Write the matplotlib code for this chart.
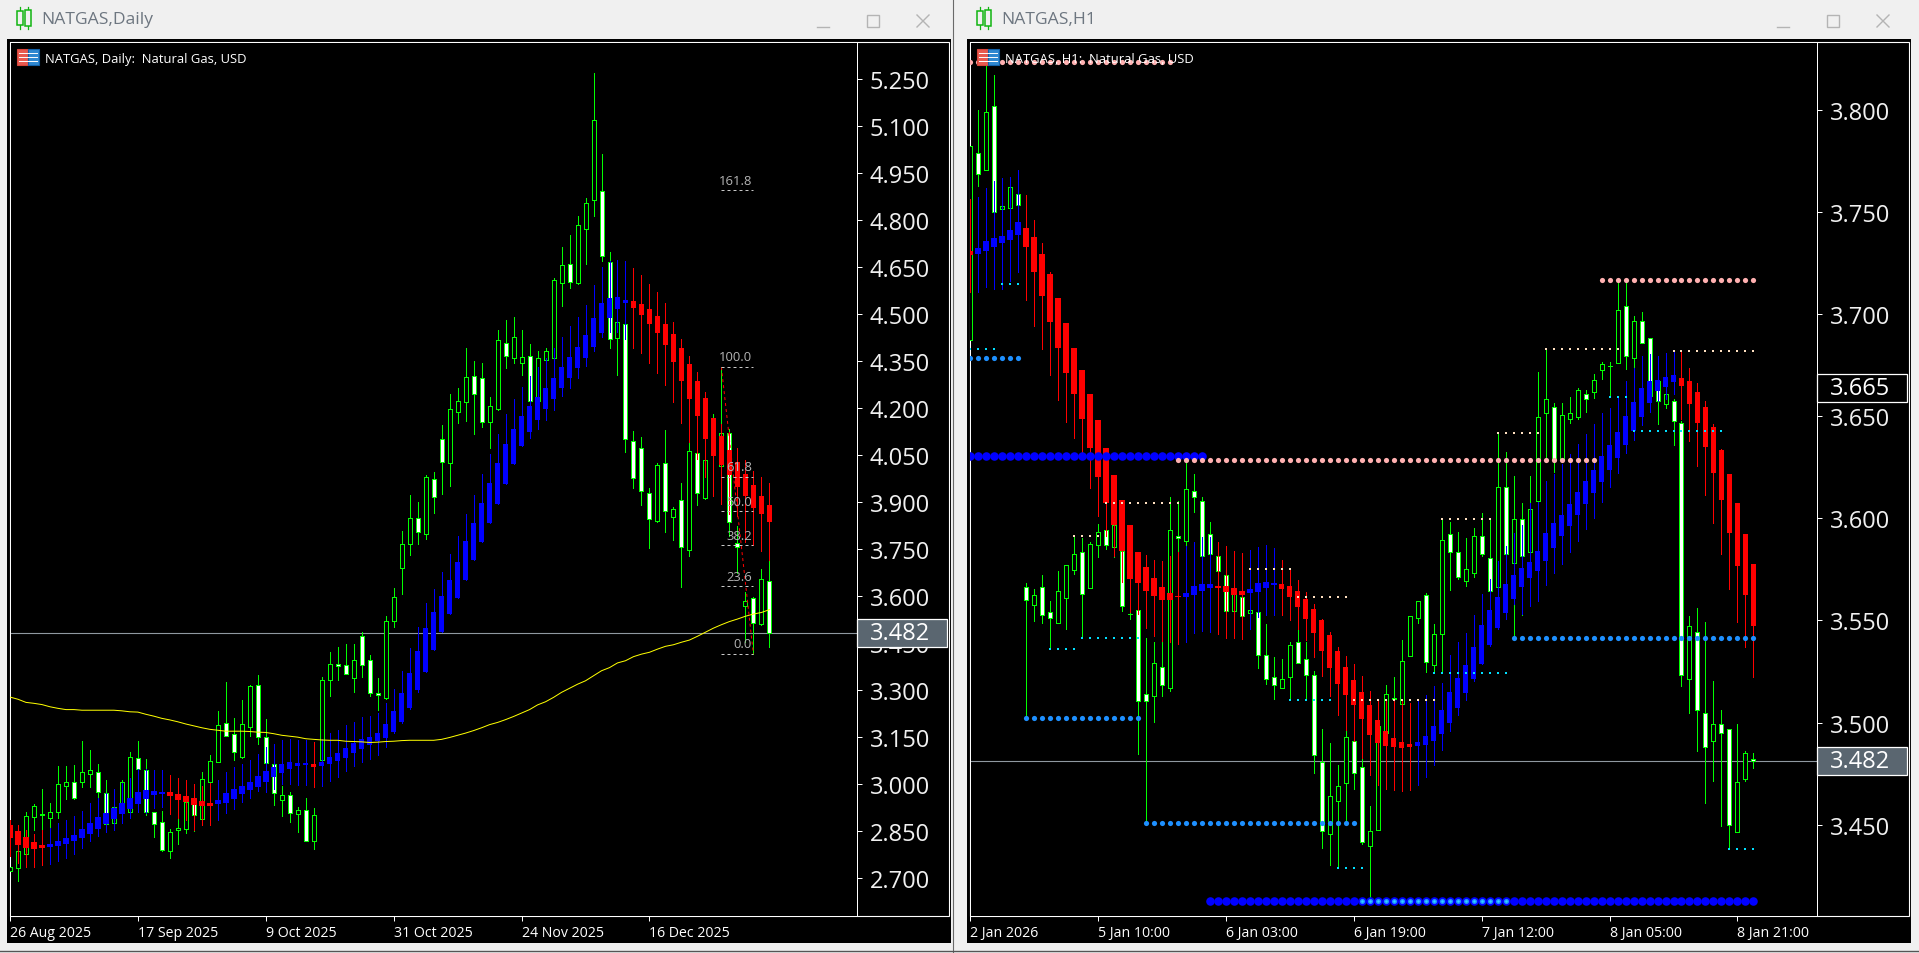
import matplotlib
matplotlib.use("Agg")
import matplotlib.pyplot as plt
from matplotlib.patches import Rectangle
from matplotlib.transforms import blended_transform_factory

plt.rcParams['font.family'] = ['Open Sans', 'DejaVu Sans']

W, H = 1919, 954

# ---- NATGAS Daily, price candles
d_open = [2.724,2.732,2.778,2.894,2.903,2.891,2.910,2.993,3.008,3.006,3.032,3.040,2.973,2.875,2.932,2.912,3.083,3.045,2.910,2.878,
          2.788,2.852,2.857,2.937,2.889,3.008,3.072,3.195,3.159,3.088,3.182,3.316,3.149,3.063,2.948,2.964,2.904,2.916,2.820,3.078,
          3.332,3.383,3.379,3.340,3.474,3.395,3.290,3.276,3.522,3.691,3.768,3.851,3.800,3.973,4.101,4.026,4.189,4.221,4.302,4.296,
          4.155,4.198,4.407,4.360,4.344,4.366,4.224,4.355,4.362,4.601,4.660,4.600,4.773,4.866,4.893,4.668,4.423,4.470,4.094,4.074,
          3.931,3.841,4.024,3.854,3.908,3.748,4.056,3.915,4.060,4.017,4.120,3.770,3.568,3.593,3.511,3.649]
d_high = [2.735,2.804,2.910,2.937,2.985,2.940,3.058,3.058,3.061,3.138,3.109,3.064,3.014,2.926,3.014,3.102,3.138,3.081,2.910,2.915,
          2.857,2.891,2.942,2.937,3.038,3.093,3.234,3.327,3.211,3.270,3.317,3.349,3.208,3.063,2.995,2.974,2.926,2.955,2.923,3.341,
          3.421,3.437,3.448,3.448,3.485,3.413,3.339,3.536,3.625,3.807,3.923,3.901,3.987,3.996,4.147,4.246,4.265,4.392,4.351,4.345,
          4.235,4.450,4.482,4.490,4.450,4.405,4.383,4.393,4.616,4.714,4.753,4.813,4.871,5.270,5.011,4.698,4.477,4.470,4.127,4.107,
          3.945,4.025,4.130,3.886,3.963,4.089,4.056,4.034,4.181,4.331,4.134,3.825,3.612,3.599,3.687,3.715]
d_low = [2.724,2.692,2.777,2.852,2.852,2.859,2.892,2.953,2.953,2.991,2.992,2.955,2.870,2.855,2.910,2.905,3.044,2.900,2.831,2.787,
         2.765,2.809,2.845,2.849,2.884,2.995,3.072,3.155,3.078,3.085,3.154,3.129,3.066,2.932,2.897,2.878,2.846,2.817,2.793,3.078,
         3.280,3.334,3.351,3.293,3.341,3.281,3.238,3.272,3.503,3.607,3.730,3.767,3.783,3.866,3.926,3.953,4.153,4.160,4.118,4.139,
         4.072,4.193,4.330,4.345,4.307,4.224,4.224,4.294,4.357,4.528,4.585,4.598,4.662,4.815,4.671,4.394,4.307,4.062,3.946,3.892,
         3.754,3.836,3.806,3.780,3.630,3.729,3.892,3.910,4.038,4.006,3.793,3.674,3.453,3.415,3.509,3.439]
d_close = [2.735,2.786,2.898,2.929,2.904,2.910,3.000,3.008,2.955,3.040,3.044,2.976,2.872,2.926,3.006,3.086,3.047,2.912,2.873,2.790,
           2.846,2.859,2.942,2.903,3.016,3.073,3.188,3.155,3.102,3.191,3.313,3.150,3.066,2.971,2.964,2.907,2.917,2.820,2.903,3.334,
           3.383,3.376,3.351,3.395,3.379,3.290,3.286,3.522,3.597,3.766,3.849,3.804,3.980,3.918,4.030,4.197,4.222,4.299,4.245,4.155,
           4.206,4.417,4.366,4.427,4.363,4.224,4.360,4.382,4.609,4.656,4.602,4.784,4.854,5.119,4.685,4.421,4.477,4.101,3.977,3.935,
           3.848,4.019,3.871,3.880,3.756,4.063,3.931,4.034,4.145,4.120,3.838,3.757,3.584,3.516,3.654,3.482]

# ---- Daily, smoothed candles (blue up, red down)
ds_open = [2.870,2.850,2.831,2.815,2.806,2.800,2.803,2.810,2.819,2.829,2.842,2.857,2.872,2.889,2.905,2.920,2.937,2.953,2.966,2.969,
           2.975,2.969,2.963,2.956,2.947,2.940,2.935,2.941,2.953,2.969,2.982,2.991,3.007,3.023,3.036,3.049,3.058,3.061,3.065,3.058,
           3.065,3.074,3.084,3.100,3.113,3.125,3.138,3.148,3.167,3.199,3.243,3.299,3.358,3.429,3.487,3.543,3.594,3.652,3.714,3.774,
           3.835,3.894,3.959,4.022,4.078,4.125,4.164,4.199,4.231,4.264,4.297,4.329,4.361,4.397,4.441,4.488,4.518,4.537,4.543,4.533,
           4.517,4.495,4.469,4.437,4.393,4.341,4.287,4.233,4.169,4.112,4.067,4.028,3.990,3.955,3.919,3.891]
ds_high = [2.885,2.868,2.852,2.842,2.854,2.861,2.877,2.886,2.897,2.915,2.941,2.955,2.972,2.985,3.004,3.019,3.047,3.047,3.046,3.046,
           3.030,3.020,3.014,3.001,2.995,3.004,3.014,3.038,3.054,3.065,3.078,3.097,3.120,3.128,3.141,3.144,3.141,3.141,3.135,3.144,
           3.164,3.174,3.189,3.198,3.213,3.218,3.227,3.259,3.304,3.361,3.434,3.501,3.578,3.623,3.676,3.735,3.791,3.863,3.923,3.990,
           4.054,4.118,4.182,4.230,4.268,4.303,4.332,4.360,4.393,4.427,4.462,4.492,4.530,4.594,4.651,4.671,4.673,4.671,4.648,4.626,
           4.597,4.571,4.536,4.476,4.421,4.367,4.317,4.251,4.170,4.150,4.123,4.072,4.036,3.999,3.979,3.960]
ds_low = [2.770,2.749,2.735,2.737,2.743,2.746,2.755,2.765,2.778,2.797,2.818,2.836,2.847,2.855,2.877,2.892,2.912,2.907,2.924,2.926,
          2.905,2.891,2.886,2.852,2.868,2.870,2.885,2.908,2.921,2.943,2.957,2.978,2.974,2.985,3.000,3.000,2.998,2.998,2.991,2.993,
          3.010,3.023,3.042,3.058,3.071,3.081,3.093,3.119,3.164,3.195,3.240,3.295,3.358,3.429,3.485,3.543,3.594,3.652,3.714,3.774,
          3.835,3.894,3.958,4.022,4.078,4.106,4.134,4.164,4.196,4.238,4.264,4.298,4.336,4.383,4.429,4.443,4.443,4.421,4.393,4.377,
          4.345,4.314,4.274,4.221,4.153,4.091,4.038,3.980,3.921,3.894,3.862,3.857,3.772,3.763,3.745,3.715]
ds_close = [2.829,2.806,2.796,2.794,2.797,2.808,2.819,2.828,2.838,2.857,2.877,2.896,2.908,2.923,2.940,2.955,2.974,2.981,2.978,2.975,
            2.963,2.950,2.943,2.934,2.929,2.931,2.950,2.972,2.985,2.995,3.007,3.026,3.042,3.055,3.065,3.071,3.068,3.068,3.055,3.071,
            3.087,3.100,3.116,3.132,3.144,3.151,3.164,3.192,3.234,3.291,3.355,3.425,3.498,3.549,3.600,3.652,3.709,3.776,3.834,3.898,
            3.961,4.026,4.085,4.134,4.174,4.206,4.236,4.264,4.296,4.331,4.364,4.396,4.434,4.487,4.536,4.551,4.555,4.546,4.520,4.499,
            4.469,4.440,4.402,4.348,4.287,4.230,4.175,4.102,4.048,4.019,3.987,3.950,3.919,3.882,3.863,3.837]

# yellow moving average on the daily chart
d_ma = [3.278,3.271,3.261,3.258,3.254,3.247,3.242,3.238,3.238,3.236,3.236,3.236,3.236,3.236,3.234,3.231,3.230,3.223,3.217,3.210,
        3.205,3.199,3.192,3.186,3.180,3.175,3.172,3.169,3.169,3.169,3.168,3.166,3.165,3.161,3.156,3.153,3.150,3.145,3.143,3.141,
        3.140,3.140,3.137,3.136,3.135,3.133,3.134,3.136,3.137,3.139,3.140,3.140,3.140,3.140,3.143,3.149,3.156,3.163,3.171,3.180,
        3.190,3.197,3.206,3.216,3.227,3.238,3.253,3.263,3.277,3.293,3.306,3.319,3.330,3.346,3.362,3.372,3.387,3.394,3.407,3.415,
        3.421,3.431,3.440,3.445,3.453,3.460,3.472,3.485,3.498,3.509,3.519,3.527,3.536,3.543,3.548,3.557]

fib_labels = ['161.8', '100.0', '61.8', '50.0', '38.2', '23.6', '0.0']
fib_levels = [4.896, 4.331, 3.980, 3.871, 3.762, 3.631, 3.415]
fib_start, fib_end = 89, 93

d_yticks = [2.70,2.85,3.00,3.15,3.30,3.45,3.60,3.75,3.90,4.05,4.20,4.35,4.50,4.65,4.80,4.95,5.10,5.25]
d_xticks = [0, 16, 32, 48, 64, 80]
d_xlabels = ['26 Aug 2025', '17 Sep 2025', '9 Oct 2025', '31 Oct 2025', '24 Nov 2025', '16 Dec 2025']

# ---- NATGAS H1, price candles
h_open = [3.6875,3.7789,3.7707,3.8018,3.7516,3.7518,3.7587,3.5663,3.5578,3.5663,3.5540,3.5490,3.5612,3.5749,3.5834,3.5661,3.5871,3.5942,3.5862,3.5840,
          3.5530,3.5550,3.5139,3.5129,3.5271,3.5168,3.5912,3.5891,3.6133,3.6084,3.5922,3.5814,3.5721,3.5548,3.5614,3.5539,3.5540,3.5330,3.5222,3.5168,
          3.5222,3.5393,3.5310,3.5232,3.4809,3.4456,3.4618,3.4706,3.4909,3.4781,3.4398,3.4476,3.4949,3.5116,3.5090,3.5328,3.5511,3.5623,3.5281,3.5434,
          3.5922,3.5834,3.5692,3.5731,3.5912,3.5805,3.5663,3.6152,3.5780,3.5995,3.5834,3.6084,3.6514,3.6544,3.6289,3.6485,3.6495,3.6607,3.6617,3.6725,
          3.6744,3.6763,3.7038,3.6784,3.6965,3.6885,3.6674,3.6562,3.6573,3.6465,3.5212,3.5442,3.5049,3.4909,3.4992,3.4967,3.4466,3.4726,3.4820]
h_high = [3.7823,3.8000,3.8220,3.8171,3.7528,3.7621,3.7587,3.5684,3.5654,3.5723,3.5594,3.5742,3.5770,3.5915,3.5904,3.5883,3.5973,3.6066,3.5968,3.5840,
          3.5545,3.5550,3.5416,3.5393,3.5410,3.6103,3.6084,3.6271,3.6217,3.6103,3.5981,3.5814,3.5721,3.5628,3.5614,3.5550,3.5540,3.5483,3.5321,3.5312,
          3.5395,3.5462,3.5395,3.5255,3.4969,3.4900,3.4793,3.4964,3.4909,3.4827,3.4594,3.4985,3.5184,3.5224,3.5403,3.5521,3.5594,3.5635,3.5483,3.5997,
          3.5981,3.5932,3.5902,3.5951,3.6025,3.5997,3.6418,3.6323,3.6206,3.6074,3.6206,3.6715,3.6829,3.6563,3.6565,3.6593,3.6637,3.6629,3.6705,3.6764,
          3.6764,3.7156,3.7156,3.6993,3.7009,3.6885,3.6683,3.6607,3.6585,3.6479,3.5521,3.5560,3.5491,3.5202,3.5060,3.4967,3.4993,3.4860,3.4851]
h_low = [3.6875,3.7629,3.7707,3.7499,3.7516,3.7518,3.7536,3.5031,3.5499,3.5488,3.5361,3.5490,3.5459,3.5728,3.5416,3.5661,3.5811,3.5850,3.5811,3.5548,
         3.5507,3.4848,3.4509,3.5002,3.5129,3.5157,3.5837,3.5866,3.6033,3.5814,3.5824,3.5741,3.5548,3.5548,3.5521,3.5539,3.5269,3.5191,3.5117,3.5168,
         3.5113,3.5290,3.5113,3.4753,3.4386,3.4305,3.4288,3.4522,3.4675,3.4406,3.4141,3.4476,3.4949,3.5109,3.5090,3.5328,3.5488,3.5248,3.5243,3.5251,
         3.5651,3.5703,3.5671,3.5712,3.5814,3.5643,3.5663,3.5824,3.5410,3.5529,3.5834,3.6084,3.6299,3.6226,3.6289,3.6465,3.6485,3.6523,3.6591,3.6684,
         3.6593,3.6763,3.6731,3.6740,3.6857,3.6585,3.6462,3.6539,3.6359,3.5181,3.5047,3.4860,3.4607,3.4716,3.4496,3.4381,3.4466,3.4716,3.4780]
h_close = [3.7823,3.7688,3.7988,3.7499,3.7528,3.7621,3.7536,3.5602,3.5625,3.5529,3.5511,3.5643,3.5770,3.5824,3.5631,3.5873,3.5932,3.5871,3.5968,3.5569,
           3.5531,3.5108,3.5108,3.5290,3.5183,3.5942,3.5902,3.6142,3.6103,3.5814,3.5824,3.5741,3.5548,3.5628,3.5521,3.5550,3.5330,3.5212,3.5183,3.5212,
           3.5379,3.5290,3.5232,3.4840,3.4468,3.4639,3.4688,3.4928,3.4755,3.4417,3.4468,3.4985,3.5139,3.5118,3.5300,3.5521,3.5594,3.5299,3.5434,3.5894,
           3.5834,3.5712,3.5751,3.5912,3.5824,3.5643,3.6152,3.5824,3.5995,3.5814,3.6044,3.6495,3.6583,3.6289,3.6505,3.6514,3.6627,3.6583,3.6676,3.6754,
           3.6745,3.7019,3.6793,3.6965,3.6857,3.6601,3.6573,3.6607,3.6475,3.5232,3.5472,3.5060,3.4879,3.4992,3.4948,3.4498,3.4708,3.4850,3.4811]

# ---- H1, smoothed candles
hs_open = [3.7309,3.7295,3.7309,3.7329,3.7348,3.7363,3.7388,3.7422,3.7378,3.7295,3.7197,3.7079,3.6957,3.6834,3.6727,3.6609,3.6482,3.6345,3.6213,3.6090,
           3.5968,3.5835,3.5762,3.5708,3.5664,3.5635,3.5620,3.5616,3.5625,3.5645,3.5659,3.5669,3.5669,3.5659,3.5645,3.5635,3.5640,3.5659,3.5674,3.5679,
           3.5669,3.5645,3.5605,3.5556,3.5503,3.5429,3.5351,3.5273,3.5209,3.5150,3.5086,3.5013,3.4959,3.4925,3.4905,3.4895,3.4886,3.4891,3.4910,3.4944,
           3.5000,3.5070,3.5145,3.5214,3.5287,3.5382,3.5463,3.5537,3.5605,3.5664,3.5707,3.5742,3.5791,3.5855,3.5914,3.5963,3.6017,3.6071,3.6124,3.6178,
           3.6237,3.6296,3.6361,3.6430,3.6498,3.6567,3.6622,3.6645,3.6668,3.6686,3.6671,3.6617,3.6545,3.6447,3.6335,3.6217,3.6075,3.5924,3.5777]
hs_high = [3.7564,3.7574,3.7618,3.7652,3.7667,3.7673,3.7706,3.7583,3.7461,3.7348,3.7206,3.7079,3.6957,3.6834,3.6727,3.6609,3.6482,3.6345,3.6213,3.6090,
           3.5968,3.5835,3.5819,3.5796,3.5791,3.5818,3.5837,3.5863,3.5883,3.5907,3.5907,3.5883,3.5863,3.5839,3.5831,3.5845,3.5858,3.5870,3.5855,3.5796,
           3.5757,3.5698,3.5638,3.5581,3.5507,3.5445,3.5370,3.5326,3.5287,3.5230,3.5153,3.5104,3.5113,3.5113,3.5113,3.5096,3.5104,3.5137,3.5178,3.5194,
           3.5333,3.5395,3.5439,3.5527,3.5630,3.5703,3.5791,3.5866,3.5929,3.5969,3.6075,3.6082,3.6183,3.6217,3.6266,3.6315,3.6364,3.6413,3.6462,3.6516,
           3.6541,3.6593,3.6674,3.6735,3.6793,3.6805,3.6795,3.6810,3.6813,3.6821,3.6735,3.6663,3.6575,3.6462,3.6340,3.6217,3.6075,3.5924,3.5777]
hs_low = [3.7107,3.7107,3.7133,3.7123,3.7123,3.7161,3.7205,3.7069,3.6944,3.6829,3.6704,3.6580,3.6472,3.6394,3.6323,3.6149,3.6013,3.5915,3.5814,3.5687,
          3.5540,3.5532,3.5462,3.5426,3.5401,3.5393,3.5385,3.5395,3.5439,3.5450,3.5445,3.5434,3.5414,3.5414,3.5411,3.5459,3.5516,3.5527,3.5527,3.5527,
          3.5503,3.5459,3.5406,3.5321,3.5227,3.5129,3.5039,3.4966,3.4909,3.4827,3.4745,3.4693,3.4677,3.4672,3.4667,3.4672,3.4696,3.4734,3.4794,3.4865,
          3.4957,3.5039,3.5113,3.5202,3.5287,3.5377,3.5459,3.5507,3.5581,3.5532,3.5569,3.5596,3.5674,3.5733,3.5777,3.5834,3.5891,3.5948,3.6002,3.6082,
          3.6154,3.6222,3.6320,3.6384,3.6457,3.6521,3.6573,3.6585,3.6609,3.6487,3.6381,3.6258,3.6115,3.5978,3.5826,3.5654,3.5494,3.5370,3.5224]
hs_close = [3.7290,3.7324,3.7358,3.7373,3.7383,3.7412,3.7451,3.7329,3.7206,3.7089,3.6962,3.6834,3.6714,3.6609,3.6487,3.6345,3.6203,3.6075,3.5968,3.5840,
            3.5703,3.5684,3.5645,3.5620,3.5601,3.5601,3.5617,3.5635,3.5669,3.5679,3.5679,3.5659,3.5640,3.5625,3.5625,3.5654,3.5684,3.5689,3.5684,3.5654,
            3.5616,3.5566,3.5507,3.5439,3.5351,3.5268,3.5189,3.5135,3.5086,3.5018,3.4940,3.4900,3.4886,3.4881,3.4876,3.4881,3.4905,3.4935,3.4984,3.5062,
            3.5150,3.5219,3.5282,3.5370,3.5478,3.5551,3.5616,3.5677,3.5721,3.5756,3.5785,3.5840,3.5927,3.5976,3.6015,3.6069,3.6128,3.6183,3.6235,3.6304,
            3.6359,3.6421,3.6500,3.6568,3.6637,3.6673,3.6676,3.6691,3.6702,3.6648,3.6560,3.6467,3.6350,3.6222,3.6090,3.5929,3.5767,3.5625,3.5473]

# support / resistance dots: level, first bar, last bar
big_blue = [(3.6304, 0, 29), (3.4125, 30, 98)]
big_inner = [(3.4125, 49, 67)]
pink_dots = [(3.8233, 0, 25), (3.6284, 26, 78), (3.7166, 79, 98)]
dodger_dots = [(3.6784, 0, 6), (3.5021, 7, 21), (3.4507, 22, 48), (3.5413, 68, 98)]
cyan_ticks = [(3.7148, 4, 6), (3.6829, 0, 3), (3.5362, 10, 13), (3.5414, 14, 21), (3.4288, 46, 49), (3.5111, 40, 45),
              (3.5243, 58, 67), (3.6596, 80, 82), (3.6428, 83, 94), (3.4381, 95, 98)]
pale_ticks = [(3.5915, 13, 16), (3.6077, 17, 26), (3.5754, 35, 40), (3.5617, 41, 47), (3.5111, 48, 58), (3.5997, 59, 65),
              (3.6418, 66, 71), (3.6829, 72, 81), (3.6820, 88, 98)]

h_yticks = [3.45, 3.50, 3.55, 3.60, 3.65, 3.70, 3.75, 3.80]
h_xticks = [0, 16, 32, 48, 64, 80, 96]
h_xlabels = ['2 Jan 2026', '5 Jan 10:00', '6 Jan 03:00', '6 Jan 19:00', '7 Jan 12:00', '8 Jan 05:00', '8 Jan 21:00']

last_daily = 3.482
last_h1 = 3.4812
other_h1 = 3.6639


def px_axes(fig, x0, y0, x1, y1):
    return fig.add_axes([x0 / W, 1 - y1 / H, (x1 - x0) / W, (y1 - y0) / H])


def draw_candles(ax, o, h, l, c):
    xs = list(range(len(o)))
    ax.vlines(xs, l, h, color='#00ff00', lw=0.72, zorder=2, antialiased=False)
    bottoms = [min(a, b) for a, b in zip(o, c)]
    heights = [max(abs(a - b), 0.0001) for a, b in zip(o, c)]
    fills = ['white' if b < a else 'black' for a, b in zip(o, c)]
    ax.bar(xs, heights, bottom=bottoms, width=0.5, color=fills, edgecolor='#00ff00', lw=0.72, zorder=3, antialiased=False)


def draw_smooth(ax, o, h, l, c):
    xs = list(range(len(o)))
    cols = ['#0000ff' if b >= a else '#ff0000' for a, b in zip(o, c)]
    ax.vlines(xs, l, h, color=cols, lw=0.72, zorder=4, antialiased=False)
    bottoms = [min(a, b) for a, b in zip(o, c)]
    heights = [abs(a - b) for a, b in zip(o, c)]
    ax.bar(xs, heights, bottom=bottoms, width=0.68, color=cols, lw=0, zorder=5, antialiased=False)


def draw_dots(ax, rows, color, size, marker='o', z=7):
    for level, a, b in rows:
        xs = list(range(a, b + 1))
        ax.scatter(xs, [level] * len(xs), s=size, c=color, marker=marker, linewidths=0, zorder=z)


def price_box(ax, price, text, fill):
    y0, y1 = ax.get_ylim()
    h = 28 * (y1 - y0) / 874.5
    tr = blended_transform_factory(ax.transAxes, ax.transData)
    ax.add_patch(Rectangle((1.0006, price - h / 2), 89.5 / 846.5, h, transform=tr, facecolor=fill,
                           edgecolor='white', lw=0.9, clip_on=False, zorder=9))
    ax.text(1.016, price, text, transform=tr, color='white', fontsize=17, va='center', ha='left', clip_on=False, zorder=10)


def style_axes(ax, xlim, ylim, yticks, xticks, xlabels):
    ax.set_facecolor('black')
    ax.set_xlim(*xlim)
    ax.set_ylim(*ylim)
    ax.yaxis.tick_right()
    ax.set_yticks(yticks)
    ax.set_yticklabels(['%.3f' % v for v in yticks])
    ax.set_xticks(xticks)
    ax.set_xticklabels(xlabels, ha='left')
    ax.tick_params(axis='y', length=3.6, width=0.72, color='white', labelcolor='#f0f0f0', labelsize=17, pad=6)
    ax.tick_params(axis='x', length=3.6, width=0.72, color='white', labelcolor='white', labelsize=10.2, pad=3)
    for s in ax.spines.values():
        s.set_color('white')
        s.set_linewidth(0.72)


def chrome(bg, x0, title):
    # window frame, title bar and the buttons
    bg.add_patch(Rectangle((x0 + 7, 40), 944, 904, facecolor='black', lw=0))
    bg.add_patch(Rectangle((x0 + 9.5, 42.5), 939, 874.5, facecolor='none', edgecolor='white', lw=0.8))
    for cx, top, bot in [(x0 + 20, 12, 26), (x0 + 28, 11, 27)]:
        bg.plot([cx, cx], [8, 30], color='#10b510', lw=0.9)
        bg.add_patch(Rectangle((cx - 3, top), 6, bot - top, facecolor='#f0f0f0', edgecolor='#10b510', lw=1.1, zorder=3))
    bg.text(x0 + 41, 20, title, color='#6d7680', fontsize=12.6, va='center', ha='left')
    bg.plot([x0 + 817, x0 + 829], [28, 28], color='#b4b4b4', lw=1)
    bg.add_patch(Rectangle((x0 + 867, 16), 12, 12, facecolor='none', edgecolor='#b4b4b4', lw=1))
    bg.plot([x0 + 917, x0 + 929], [16, 28], color='#b4b4b4', lw=1)
    bg.plot([x0 + 917, x0 + 929], [28, 16], color='#b4b4b4', lw=1)


def symbol_icon(fg, x0):
    # small red and blue table icon inside the chart
    fg.add_patch(Rectangle((x0 + 17, 50), 11, 15.5, facecolor='#e85a50', edgecolor='#d8453a', lw=0.8))
    fg.add_patch(Rectangle((x0 + 28, 50), 10.5, 15.5, facecolor='#2f88d0', edgecolor='#1060a8', lw=0.8))
    for yy in (54, 58, 62):
        fg.plot([x0 + 19, x0 + 37], [yy, yy], color='white', lw=0.7)


fig = plt.figure(figsize=(W / 100, H / 100), dpi=100, facecolor='#f0f0f0')

bg = fig.add_axes([0, 0, 1, 1])
bg.set_xlim(0, W)
bg.set_ylim(H, 0)
bg.axis('off')
chrome(bg, 0, 'NATGAS,Daily')
chrome(bg, 960, 'NATGAS,H1')
bg.plot([953, 953], [0, H], color='#6a6a6a', lw=0.8)
bg.plot([0, W], [951.5, 951.5], color='#555555', lw=1)

# left chart
ax1 = px_axes(fig, 10, 42.5, 856.5, 917)
style_axes(ax1, (0.08, 105.9), (2.579, 5.371), d_yticks, d_xticks, d_xlabels)
ax1.axhline(last_daily, color='#8f98a0', lw=0.8, zorder=1)
draw_candles(ax1, d_open, d_high, d_low, d_close)
draw_smooth(ax1, ds_open, ds_high, ds_low, ds_close)
ax1.plot(range(len(d_ma)), d_ma, color='#ffff00', lw=0.72, zorder=6)
ax1.plot([fib_start, fib_end], [fib_levels[1], fib_levels[-1]], color='#ff0000', lw=0.72, ls=(0, (3, 3)), zorder=6)
for lab, lev in zip(fib_labels, fib_levels):
    ax1.plot([fib_start, fib_end], [lev, lev], color='#c8c8c8', lw=0.72, ls=(0, (3, 3)), zorder=7)
    ax1.text(fib_end - 0.2, lev + 0.012, lab, color='#b4b4b4', fontsize=9.4, ha='right', va='bottom', zorder=8)
ax1.text(0.0413, 0.981, 'NATGAS, Daily:  Natural Gas, USD', transform=ax1.transAxes, color='white', fontsize=9.4, va='center', ha='left', zorder=8)
price_box(ax1, last_daily, '3.482', '#5a6670')

# right chart
ax2 = px_axes(fig, 970, 42.5, 1816.6, 917)
style_axes(ax2, (0.08, 105.9), (3.4053, 3.8335), h_yticks, h_xticks, h_xlabels)
ax2.axhline(last_h1, color='#8f98a0', lw=0.8, zorder=1)
draw_candles(ax2, h_open, h_high, h_low, h_close)
draw_smooth(ax2, hs_open, hs_high, hs_low, hs_close)
draw_dots(ax2, big_blue, '#0000ff', 38)
draw_dots(ax2, big_inner, '#1e90ff', 14, z=8)
draw_dots(ax2, big_inner, '#30d8ff', 3, z=9)
draw_dots(ax2, pink_dots, '#ffb0b0', 14)
draw_dots(ax2, dodger_dots, '#1e90ff', 14)
draw_dots(ax2, cyan_ticks, '#00e0ff', 3, marker='s')
draw_dots(ax2, pale_ticks, '#ffe0c0', 3, marker='s')
ax2.text(0.0413, 0.981, 'NATGAS, H1:  Natural Gas, USD', transform=ax2.transAxes, color='white', fontsize=9.4, va='center', ha='left', zorder=8)
price_box(ax2, other_h1, '3.665', 'black')
price_box(ax2, last_h1, '3.482', '#5a6670')

# icons sit over the chart corner
fg = fig.add_axes([0, 0, 1, 1], facecolor='none')
fg.set_xlim(0, W)
fg.set_ylim(H, 0)
fg.axis('off')
symbol_icon(fg, 0)
symbol_icon(fg, 960)

fig.savefig('out.png', dpi=100, facecolor=fig.get_facecolor())
